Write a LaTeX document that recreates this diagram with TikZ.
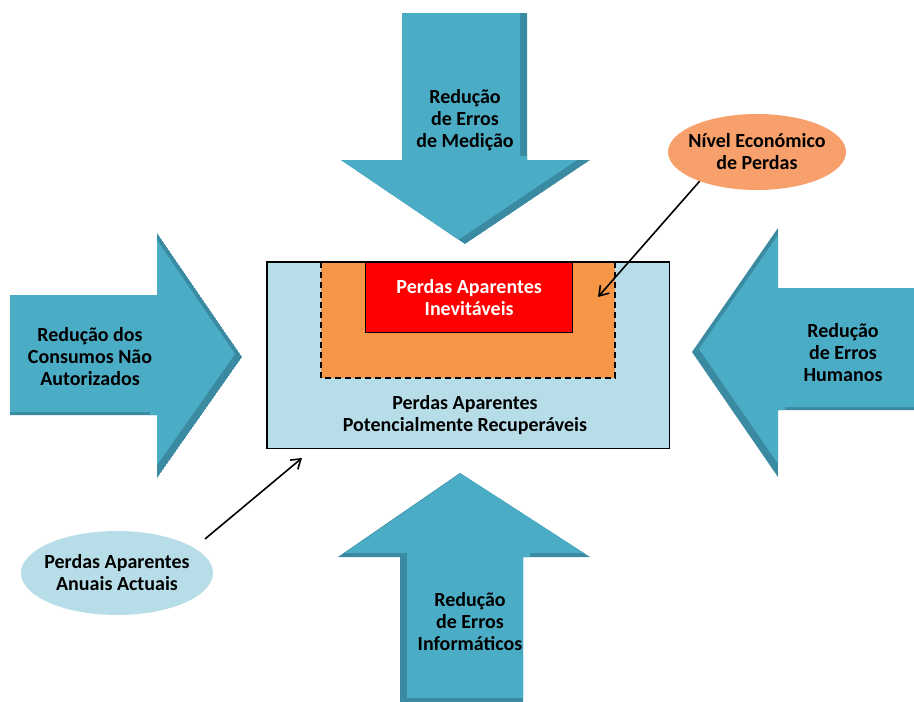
\documentclass[tikz,border=0pt]{standalone}
\usepackage{fontspec}
\setmainfont{Carlito}
\usetikzlibrary{shapes.geometric,arrows.meta}

\definecolor{setamain}{HTML}{4BACC6}
\definecolor{setadark}{HTML}{3A8AA2}
\definecolor{caixaazul}{HTML}{B7DEE8}
\definecolor{laranja}{HTML}{F79646}
\definecolor{elipselaranja}{HTML}{F8A06C}

% big bevelled arrow: dark base, main colour shifted by #1
\newcommand{\setagrande}[2]{%
\begin{scope}
\clip #2;
\fill[setadark] #2;
\fill[setamain, shift={#1}] #2;
\end{scope}}

\begin{document}
\begin{tikzpicture}[x=1pt,y=-1pt]
\tikzstyle{rotulo} = [align=center, font=\fontsize{20}{22}\selectfont\bfseries, inner sep=0pt]
\tikzstyle{balao} = [shape=ellipse, rotulo, inner xsep=-9pt, inner ysep=0pt]
\tikzstyle{seta} = [line width=1.6pt, -{Straight Barb[length=9pt,width=12pt]}]

\useasboundingbox (0,0) rectangle (914,702);

% the four arrows
\setagrande{(-7,-4)}{(402,13) -- (527,13) -- (527,160) -- (590,160) -- (465,244) -- (341,160) -- (402,160) -- cycle}
\setagrande{(-7,-3)}{(10,295) -- (157,295) -- (157,233) -- (242,357) -- (157,478) -- (157,415) -- (10,415) -- cycle}
\setagrande{(7,-3)}{(914,288) -- (778,288) -- (778,228) -- (692,352) -- (778,477) -- (778,410) -- (914,410) -- cycle}
\setagrande{(7,-4)}{(400,702) -- (400,557) -- (338,557) -- (460,473) -- (590,557) -- (523,557) -- (523,702) -- cycle}

\node[rotulo] (medicao) at (465,120) {Redução\\de Erros\\de Medição};
\node[rotulo] (consumos) at (90,357) {Redução dos\\Consumos Não\\Autorizados};
\node[rotulo] (humanos) at (843,353) {Redução\\de Erros\\Humanos};
\node[rotulo] (informaticos) at (470,622) {Redução\\de Erros\\Informáticos};

% central box
\node[fill=caixaazul, minimum width=402, minimum height=186, anchor=north west, inner sep=0pt] (caixa) at (267,262) {};
\draw[fill=laranja, line width=1.8pt, dash pattern=on 6pt off 4pt] (321,262) rectangle (615,378);
\node[draw, fill=red, line width=1.3pt, minimum width=207, minimum height=70, anchor=north west, inner sep=0pt] (inevitaveis) at (365,262) {};
\node[rotulo, text=white] at (inevitaveis.center) {Perdas Aparentes\\Inevitáveis};
\draw[line width=1.5pt] (caixa.north west) rectangle (caixa.south east);
\node[rotulo] (recuperaveis) at (465,415) {Perdas Aparentes\\Potencialmente Recuperáveis};

% callouts
\node[balao, fill=caixaazul, minimum width=192, minimum height=84] (anuais) at (117,573) {Perdas Aparentes\\Anuais Actuais};
\node[balao, fill=elipselaranja, minimum width=178, minimum height=76] (nivel) at (757,152) {Nível Económico\\de Perdas};

\coordinate (alvoanuais) at (302,458);
\coordinate (alvonivel) at (598,297);
\draw[seta, shorten <=14pt] (anuais.18) -- (alvoanuais);
\draw[seta] (nivel.207) -- (alvonivel);

\end{tikzpicture}
\end{document}
